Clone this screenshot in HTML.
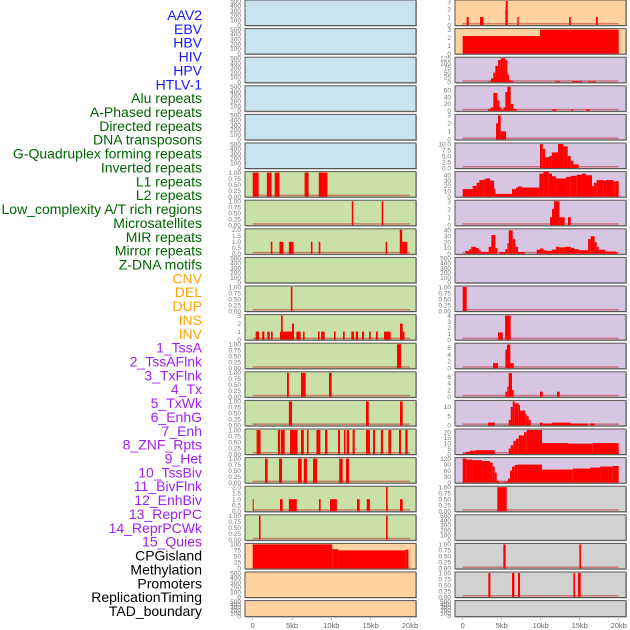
<!DOCTYPE html>
<html><head><meta charset="utf-8"><style>
html,body{margin:0;padding:0;background:#fff;}
svg{display:block;font-family:"Liberation Sans",sans-serif;}
</style></head><body>
<svg id="chart" width="630" height="630" viewBox="0 0 630 630" xmlns="http://www.w3.org/2000/svg"></svg>
<script>
const trackLabels = ["AAV2","EBV","HBV","HIV","HPV","HTLV-1","Alu repeats","A-Phased repeats","Directed repeats","DNA transposons","G-Quadruplex forming repeats","Inverted repeats","L1 repeats","L2 repeats","Low_complexity A/T rich regions","Microsatellites","MIR repeats","Mirror repeats","Z-DNA motifs","CNV","DEL","DUP","INS","INV","1_TssA","2_TssAFlnk","3_TxFlnk","4_Tx","5_TxWk","6_EnhG","7_Enh","8_ZNF_Rpts","9_Het","10_TssBiv","11_BivFlnk","12_EnhBiv","13_ReprPC","14_ReprPCWk","15_Quies","CPGisland","Methylation","Promoters","ReplicationTiming","TAD_boundary"];
const labelColors = ["#1a1aff","#1a1aff","#1a1aff","#1a1aff","#1a1aff","#1a1aff","#006400","#006400","#006400","#006400","#006400","#006400","#006400","#006400","#006400","#006400","#006400","#006400","#006400","#ffa500","#ffa500","#ffa500","#ffa500","#ffa500","#a020f0","#a020f0","#a020f0","#a020f0","#a020f0","#a020f0","#a020f0","#a020f0","#a020f0","#a020f0","#a020f0","#a020f0","#a020f0","#a020f0","#a020f0","#000","#000","#000","#000","#000"];
const xTicks = [0,5,10,15,20];
const xTickLabels = ["0","5kb","10kb","15kb","20kb"];
const T500=[0,100,200,300,400,500], T1=[0,0.25,0.5,0.75,1], T2=[0,0.5,1,1.5,2], T3=[0,1,2,3];
const leftBg = ["b","b","b","b","b","b","g","g","g","g","g","g","g","g","g","g","g","g","g","o","o","o"];
const leftYmax = [500,500,500,500,500,500,1,1,2,500,1,3,1,1,1,1,1,2,1,100,500,500];
const leftTicks = [T500,T500,T500,T500,T500,T500,T1,T1,T2,T500,T1,T3,T1,T1,T1,T1,T1,T2,T1,[0,25,50,75,100],T500,T500];
const leftBars = [[],[],[],[],[],[],
[[0,0.75,1],[1.8,2.4,1],[2.8,3.4,1],[6.6,7.1,1],[8.4,9.5,1]],
[[12.6,12.8,1],[16.4,16.6,1]],
[[2.3,2.5,1],[3.4,3.9,1],[4.6,5.2,1],[7.4,7.6,1],[8.4,8.6,1],[16.9,17.1,1],[18.7,19.0,2],[19.0,19.65,1]],
[],
[[4.85,5.05,1]],
[[0.38,0.8,1],[1.19,1.48,1],[1.86,2.16,1],[2.33,2.54,1],[3.47,5.0,1],[3.6,3.81,3],[5.0,5.25,2],[5.55,6.1,1],[6.4,6.6,1],[8.3,8.5,1],[8.7,9.15,1],[10.34,10.55,1],[11.48,11.7,1],[12.54,12.88,1],[13.1,13.4,1],[13.9,14.15,1],[14.8,15.0,1],[15.68,15.9,1],[16.7,17.54,1],[18.73,19.07,2],[19.07,19.3,1]],
[[18.35,18.86,1]],
[[4.36,4.6,1],[6.14,6.74,1],[9.7,10.04,1]],
[[4.6,5.0,1],[14.4,14.75,1],[18.73,19.07,1]],
[[0.5,1.0,1],[3.2,3.5,1],[3.6,4.07,1],[4.75,5.7,1],[6.14,6.5,1],[6.9,7.1,1],[8.1,8.6,1],[9.2,9.5,1],[10.85,11.1,1],[11.6,11.8,1],[11.95,12.25,1],[12.7,12.97,1],[14.4,14.9,1],[15.3,15.55,1],[16.3,16.57,1],[17.25,17.6,1],[18.6,18.86,1],[19.4,19.7,1]],
[[1.57,1.9,1],[3.35,3.73,1],[5.76,6.23,1],[6.5,6.9,1],[7.67,8.18,1],[11.0,11.44,1],[11.86,12.25,1]],
[[0,0.13,1],[3.47,3.81,1],[4.6,5.6,1],[8.43,8.64,1],[9.83,10.7,1],[13.26,13.6,1],[14.5,14.9,1],[16.95,17.16,2],[18.73,19.07,1]],
[[0.8,1.0,1],[16.95,17.16,1]],
[[0,10.1,100],[10.1,10.9,80],[10.9,19.4,75],[19.4,19.8,78]],
[],[]];
const rightBg = ["o","o","p","p","p","p","p","p","p","p","p","p","p","p","p","p","p","x","x","x","x","x"];
const rightYmax = [3,3,125,70,3,10,45,3,41,500,1,4,7.1,7.1,13,22,120,1,500,1,1,500];
const rightTicks = [T3,T3,[0,25,50,75,100,125],[0,20,40,60],T3,[0,2.5,5,7.5,10],[0,10,20,30,40],T3,[0,10,20,30,40],T500,T1,[0,1,2,3,4],[0,2,4,6],[0,2,4,6],[0,5,10],[0,5,10,15,20],[0,30,60,90,120],T1,T500,T1,T1,T500];
const rightBars = [
[[0.51,0.77,1],[2.22,2.65,1],[5.47,5.51,2],[5.51,5.77,3],[7.01,7.18,1],[13.63,13.85,1],[17.09,17.31,1]],
[[0,9.91,2.2],[9.91,20,3]],
[[3.29,3.63,3],[3.63,3.93,20],[3.93,4.19,50],[4.19,4.53,85],[4.53,4.87,115],[4.87,5.47,125],[5.47,5.73,115],[5.73,5.94,40],[5.94,6.24,10],[6.24,6.5,5],[11.84,12.48,4],[14.02,15.30,5],[16.07,17.09,4]],
[[3.25,3.59,5],[3.59,3.93,10],[3.93,4.44,52],[4.44,4.70,30],[4.70,4.96,10],[4.96,5.21,3],[5.21,5.47,10],[5.47,5.73,55],[5.73,6.15,70],[6.15,6.50,20],[6.50,6.92,5],[11.45,12.05,4],[13.93,14.19,3],[15.81,16.32,4]],
[[4.27,4.53,2],[4.53,4.87,3],[4.87,5.56,1]],
[[9.91,10.26,10],[10.26,10.56,8],[10.56,11.11,4.5],[11.11,11.41,5],[11.41,12.22,6.5],[12.22,12.91,10],[12.91,13.46,9],[13.46,13.85,5],[13.85,14.19,3],[14.19,14.87,1.5]],
[[0,1.28,14],[1.28,1.79,20],[1.79,2.14,26],[2.14,2.65,31],[2.65,2.91,32],[2.91,3.50,34],[3.50,4.02,30],[4.02,4.19,15],[4.19,6.32,5],[6.32,6.84,14],[6.84,7.09,17],[7.09,7.61,19],[7.61,9.83,17],[9.83,10.34,43],[10.34,11.03,47],[11.03,11.45,43],[11.45,11.97,38],[11.97,13.25,34],[13.25,13.85,37],[13.85,14.62,39],[14.62,15.30,41],[15.30,15.81,43],[15.81,16.58,40],[16.58,16.84,20],[16.84,17.18,26],[17.18,18.03,31],[18.03,18.38,30],[18.38,19.32,31],[19.32,19.57,28],[19.57,20,29]],
[[11.20,11.45,1],[11.45,11.71,2],[11.71,12.39,3],[12.39,13.08,1],[13.50,13.85,1]],
[[0.34,0.85,5],[0.85,1.11,8],[1.11,1.71,12],[1.71,2.05,10],[2.05,2.31,6],[2.31,3.33,3],[3.33,3.68,12],[3.68,4.19,32],[4.19,4.44,10],[4.70,5.47,3],[5.47,5.73,8],[5.73,5.90,18],[5.90,6.41,40],[6.41,6.75,25],[6.75,7.09,12],[7.09,7.95,3],[9.49,9.91,7],[9.91,10.34,9],[10.34,10.77,6],[10.77,11.45,5],[11.45,11.97,7],[11.97,12.39,12],[12.39,13.08,11],[13.08,13.85,12],[13.85,14.27,10],[14.27,14.87,8],[14.87,16.07,6],[16.07,16.41,25],[16.41,16.92,30],[16.92,17.18,20],[17.18,17.44,12],[17.44,18.29,7],[18.29,18.89,4],[18.89,19.66,4],[19.66,19.83,2]],
[],
[[0,0.51,1]],
[[4.53,5.13,1.2],[5.43,6.15,4]],
[[3.89,4.53,1.5],[5.47,5.68,5.5],[5.68,6.11,7],[6.11,6.54,1.5]],
[[5.47,5.73,1.5],[5.73,5.90,3],[5.90,6.32,7],[6.32,6.54,2],[9.91,10.26,1.5],[12.09,12.44,1.5]],
[[3.25,4.10,1.5],[5.90,6.15,3],[6.15,6.41,10],[6.41,6.67,13],[6.67,7.18,12],[7.18,7.35,11],[7.35,8.03,8],[8.03,8.21,6],[8.21,8.46,5],[8.46,8.72,3],[9.91,10.26,1.5],[10.26,11.45,1],[11.45,13.85,1.5],[13.85,16.07,1],[16.32,16.92,1]],
[[0,0.43,0.5],[0.43,0.94,2],[0.94,1.62,3],[1.62,4.10,3.5],[5.90,6.15,5],[6.15,6.50,8],[6.50,6.84,12],[6.84,7.18,14],[7.18,7.86,17],[7.86,8.21,20],[8.21,10.17,22],[10.17,13.50,10],[13.50,16.67,9.5],[16.67,20,10]],
[[0,0.51,120],[0.51,1.20,115],[1.20,2.48,112],[2.48,3.50,108],[3.50,3.85,100],[3.85,4.10,80],[4.10,4.36,50],[4.36,4.62,10],[4.62,5.30,2],[5.30,5.81,5],[5.81,6.07,20],[6.07,6.32,60],[6.32,6.67,80],[6.67,7.01,88],[7.01,10.17,90],[10.17,14.10,65],[14.10,16.32,70],[16.32,17.61,75],[17.61,19.23,80],[19.23,20,83]],
[[4.44,5.64,1]],
[],
[[5.21,5.51,1],[14.96,15.17,1]],
[[3.29,3.55,1],[6.32,6.62,1],[7.09,7.35,1],[14.19,14.40,1],[14.79,15.13,1]],
[]];
</script>
<script>
const NS="http://www.w3.org/2000/svg";
const svg=document.getElementById('chart');
const bgColors={b:"#c9e4ec",g:"#c9e1a6",o:"#ffd29f",p:"#d6c6e2",x:"#d1d1d1"};
function mk(tag,attrs,parent){const e=document.createElementNS(NS,tag);for(const k in attrs)e.setAttribute(k,attrs[k]);(parent||svg).appendChild(e);return e;}
// labels
trackLabels.forEach((t,i)=>{
  const e=mk('text',{x:202,y:20+i*13.86,'text-anchor':'end','font-size':14,fill:labelColors[i]});
  
  
  e.textContent=t;
});
function rowTop(i){return i*28.6;}
function rowH(i){return i===21?16:25.5;}
function drawColumn(px,pw,x0,x1,bgs,ymaxs,ticks,bars,side){
  const xs=kb=>x0+(x1-x0)*kb/20;
  for(let i=0;i<bgs.length;i++){
    const top=rowTop(i),h=rowH(i);
    const g=mk('g',{});
    
    
    mk('rect',{x:px+1,y:top+1,width:pw,height:h,fill:'#aaa'},g);
    mk('rect',{x:px,y:top,width:pw,height:h,fill:bgColors[bgs[i]],stroke:'#555','stroke-width':1},g);
    const yb=top+h-0.5,yt=top+1,ys=v=>yb-(yb-yt)*v/ymaxs[i];
    ticks[i].forEach(v=>{
      const t=mk('text',{x:px-4,y:ys(v)+2.3,'text-anchor':'end','font-size':6.5,fill:'#777'},g);
      
      
      t.textContent=(ticks[i]===T1||ticks[i][1]===2.5)?v.toFixed(ticks[i]===T1?2:1):(ticks[i]===T2?v.toFixed(1):String(v));
    });
    if(bars[i].length){
      const bl=mk('rect',{x:xs(0),y:yb-2,width:xs(20)-xs(0),height:1.5,fill:'#c03030',opacity:0.55},g);
      
      
    }
    bars[i].forEach(b=>{
      const r=mk('rect',{x:xs(b[0]),y:ys(b[2]),width:Math.max(1,xs(b[1])-xs(b[0])),height:yb-ys(b[2]),fill:'#ff0000'},g);
      
      
    });
  }
  xTicks.forEach((v,j)=>{
    mk('line',{x1:xs(v),x2:xs(v),y1:618,y2:620,stroke:'#888','stroke-width':0.6});
    const t=mk('text',{x:xs(v),y:628,'text-anchor':'middle','font-size':7.5,fill:'#666'});
    
    
    t.textContent=xTickLabels[j];
  });
}
drawColumn(245,171,252.7,410,leftBg,leftYmax,leftTicks,leftBars,'left');
drawColumn(455,171,462.7,618.7,rightBg,rightYmax,rightTicks,rightBars,'right');
</script>
</body></html>
